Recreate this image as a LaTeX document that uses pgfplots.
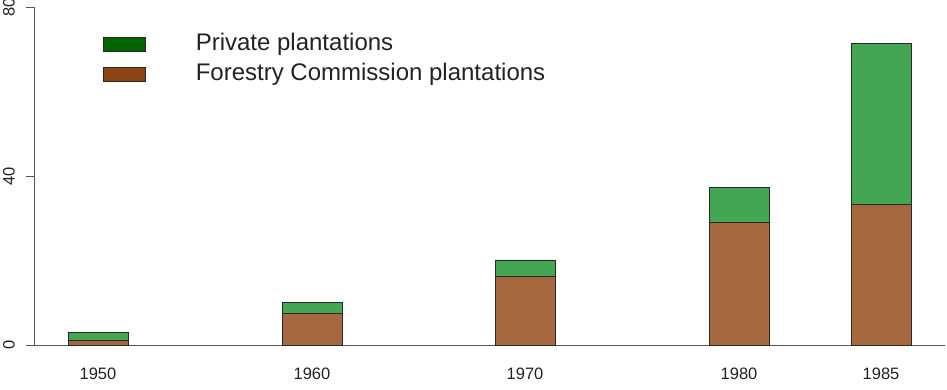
\documentclass[border=0pt]{standalone}
\usepackage{pgfplots}
\pgfplotsset{compat=1.18}
\usepackage{fontspec}
\setmainfont{Liberation Sans}
\definecolor{barGreen}{RGB}{67,166,83}
\definecolor{barBrown}{RGB}{165,104,63}
\definecolor{legGreen}{RGB}{0,100,0}
\definecolor{legBrown}{RGB}{139,69,19}
\definecolor{axisGray}{RGB}{85,85,85}
\definecolor{textGray}{RGB}{34,34,34}
\definecolor{edgeCol}{RGB}{40,40,40}
\begin{document}
\begin{tikzpicture}
\useasboundingbox (-34pt,-44.7pt) rectangle (913pt,345.3pt);
\begin{axis}[
  scale only axis, width=911pt, height=338pt,
  xmin=34, xmax=945, ymin=0, ymax=80,
  axis x line*=bottom, axis y line*=left,
  axis line style={-, color=axisGray, line width=0.9pt},
  xtick={98,312,525,739,881},
  xticklabels={1950,1960,1970,1980,1985},
  ytick={0,40,80},
  tick align=outside, major tick length=8pt,
  x tick style={draw=none},
  y tick style={color=axisGray, line width=0.9pt},
  /pgf/number format/assume math mode=true,
  ticklabel style={text=textGray, font=\fontsize{16.5}{18}\selectfont},
  xticklabel style={anchor=north, inner sep=0pt, yshift=-14.5pt},
  yticklabel style={rotate=90, anchor=south, inner sep=0pt, yshift=11pt},
  ybar stacked, bar width=60,
  legend style={draw=none, fill=none, at={(axis cs:103,73.6)}, anchor=north west,
    inner sep=0pt, outer sep=0pt, text=textGray,
    font=\fontsize{24}{28}\selectfont,
    /tikz/every odd column/.append style={column sep=50pt},
    nodes={inner sep=0pt, text height=16pt, text depth=5pt},
    row sep=9pt},
  legend cell align=left,
  legend image code/.code={\draw[#1] (0pt,-7pt) rectangle (42pt,7pt);},
]
\addlegendimage{fill=legGreen, draw=edgeCol, line width=0.8pt}
\addlegendentry{Private plantations}
\addlegendimage{fill=legBrown, draw=edgeCol, line width=0.8pt}
\addlegendentry{Forestry Commission plantations}
\addplot+[fill=barBrown, draw=edgeCol, line width=0.8pt] coordinates {(98,1.2) (312,7.6) (525,16.4) (739,29.0) (881,33.3)};
\addplot+[fill=barGreen, draw=edgeCol, line width=0.8pt] coordinates {(98,1.9) (312,2.6) (525,3.8) (739,8.3) (881,38.1)};
\end{axis}
\end{tikzpicture}
\end{document}
